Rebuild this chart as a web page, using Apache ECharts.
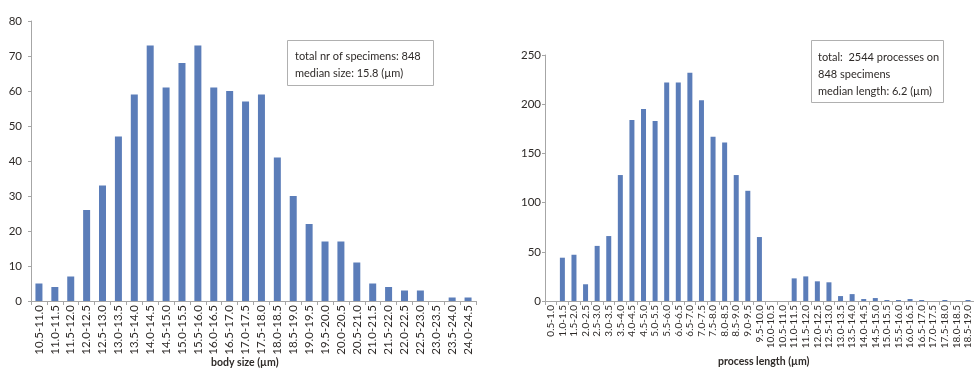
<!DOCTYPE html>
<html><head><meta charset="utf-8">
<script src="https://cdn.jsdelivr.net/npm/echarts@6/dist/echarts.min.js"></script>
<style>html,body{margin:0;padding:0;background:#fff}#c{width:974px;height:372px}</style>
</head><body><div id="c"></div>
<script>
const bodyCats = ["10.5-11.0","11.0-11.5","11.5-12.0","12.0-12.5","12.5-13.0","13.0-13.5","13.5-14.0","14.0-14.5","14.5-15.0","15.0-15.5","15.5-16.0","16.0-16.5","16.5-17.0","17.0-17.5","17.5-18.0","18.0-18.5","18.5-19.0","19.0-19.5","19.5-20.0","20.0-20.5","20.5-21.0","21.0-21.5","21.5-22.0","22.0-22.5","22.5-23.0","23.0-23.5","23.5-24.0","24.0-24.5"];
const bodyVals = [5,4,7,26,33,47,59,73,61,68,73,61,60,57,59,41,30,22,17,17,11,5,4,3,3,0,1,1];
const procCats = ["0.5-1.0","1.0-1.5","1.5-2.0","2.0-2.5","2.5-3.0","3.0-3.5","3.5-4.0","4.0-4.5","4.5-5.0","5.0-5.5","5.5-6.0","6.0-6.5","6.5-7.0","7.0-7.5","7.5-8.0","8.0-8.5","8.5-9.0","9.0-9.5","9.5-10.0","10.0-10.5","10.5-11.0","11.0-11.5","11.5-12.0","12.0-12.5","12.5-13.0","13.0-13.5","13.5-14.0","14.0-14.5","14.5-15.0","15.0-15.5","15.5-16.0","16.0-16.5","16.5-17.0","17.0-17.5","17.5-18.0","18.0-18.5","18.5-19.0","19.0-19.5","19.5-20.0"];
const procVals = [0,44,47,17,56,66,128,184,195,183,222,222,232,204,167,161,128,112,65,0,0,23,25,20,19,5,7,2,3,1,1,2,1,0,1,0,1,0,0];
const bodyTicks = [0,10,20,30,40,50,60,70,80];
const procTicks = [0,50,100,150,200,250];

const FONT = 'Lato';
const TXT = '#2e2a28';
const AX = '#a6a6a6';
const BAR = '#5b7db9';

const chart = echarts.init(document.getElementById('c'));
function xAx(idx, cats, fs){
  return {type:'category', gridIndex:idx, data:cats,
    axisLine:{lineStyle:{color:AX}}, axisTick:{show:true, length:4, lineStyle:{color:AX}},
    axisLabel:{interval:0, rotate:90, fontFamily:FONT, fontSize:fs, color:TXT, margin:4}};
}
function yAx(idx, ticks, margin){
  return {type:'value', gridIndex:idx, min:ticks[0], max:ticks[ticks.length-1], interval:ticks[1]-ticks[0],
    splitLine:{show:false}, axisLine:{show:true, lineStyle:{color:AX}},
    axisTick:{show:true, length:3, lineStyle:{color:AX}},
    axisLabel:{fontFamily:FONT, fontSize:11.5, color:TXT, margin:margin}};
}
chart.setOption({
  animation:false,
  grid:[
    {left:31, top:21, width:445, height:280, outerBoundsMode:'none', containLabel:false},
    {left:545, top:55, width:452, height:246, outerBoundsMode:'none', containLabel:false}
  ],
  xAxis:[xAx(0, bodyCats, 11.5), xAx(1, procCats, 10)],
  yAxis:[yAx(0, bodyTicks, 9), yAx(1, procTicks, 4)],
  series:[
    {type:'bar', xAxisIndex:0, yAxisIndex:0, data:bodyVals, barWidth:7, itemStyle:{color:BAR}},
    {type:'bar', xAxisIndex:1, yAxisIndex:1, data:procVals, barWidth:5, itemStyle:{color:BAR}}
  ],
  graphic:[
    {type:'text', left:211, top:357, style:{text:'body size (µm)', font:'bold 10.5px '+FONT, fill:TXT}},
    {type:'text', left:718, top:356, style:{text:'process length (µm)', font:'bold 10.5px '+FONT, fill:TXT}},
    {type:'rect', shape:{x:287.5, y:40.5, width:146, height:45}, style:{fill:'#fff', stroke:'#b0b0b0', lineWidth:1}},
    {type:'text', x:295, y:48, style:{text:'total nr of specimens: 848\nmedian size: 15.8 (µm)', font:'11px '+FONT, lineHeight:17, fill:TXT}},
    {type:'rect', shape:{x:811.5, y:40.5, width:132, height:62}, style:{fill:'#fff', stroke:'#b0b0b0', lineWidth:1}},
    {type:'text', x:818, y:49, style:{text:'total:  2544 processes on\n848 specimens\nmedian length: 6.2 (µm)', font:'11px '+FONT, lineHeight:17, fill:TXT}}
  ]
});
</script></body></html>
